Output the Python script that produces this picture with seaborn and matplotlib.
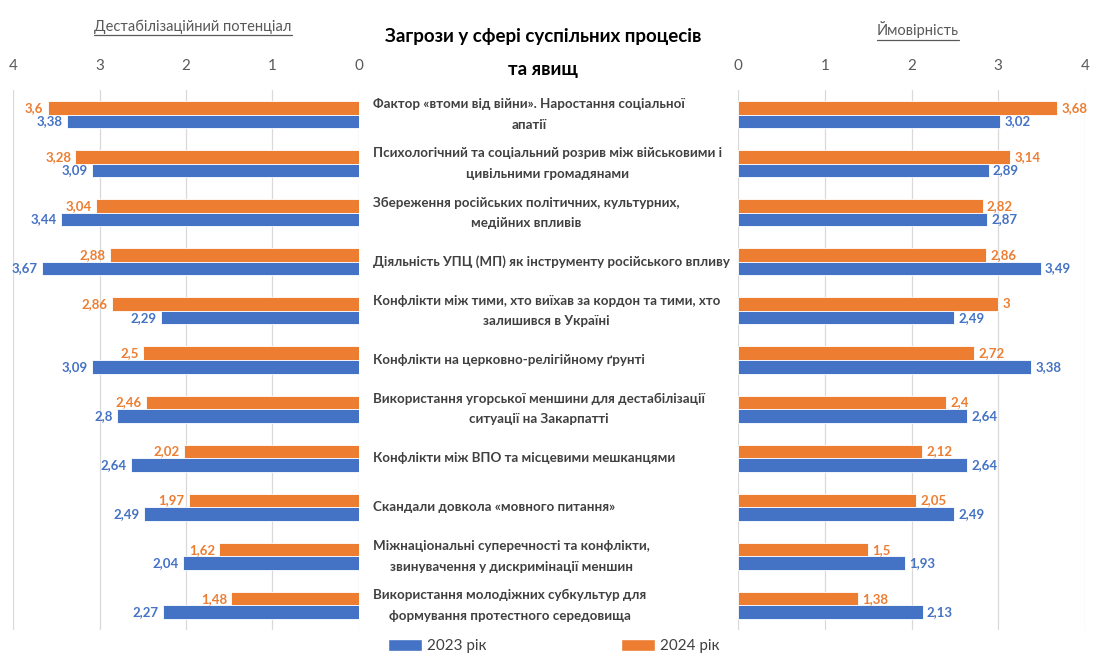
import numpy as np
import pandas as pd
import matplotlib
matplotlib.use("Agg")
import matplotlib.pyplot as plt
import matplotlib.transforms as mtransforms
from matplotlib.patches import Patch
from matplotlib.lines import Line2D
import seaborn as sns

# --- data ---
threats = [
    "Фактор «втоми від війни». Наростання соціальної\nапатії",
    "Психологічний та соціальний розрив між військовими і\nцивільними громадянами",
    "Збереження російських політичних, культурних,\nмедійних впливів",
    "Діяльність УПЦ (МП) як інструменту російського впливу",
    "Конфлікти між тими, хто виїхав за кордон та тими, хто\nзалишився в Україні",
    "Конфлікти на церковно-релігійному ґрунті",
    "Використання угорської меншини для дестабілізації\nситуації на Закарпатті",
    "Конфлікти між ВПО та місцевими мешканцями",
    "Скандали довкола «мовного питання»",
    "Міжнаціональні суперечності та конфлікти,\nзвинувачення у дискримінації меншин",
    "Використання молодіжних субкультур для\nформування протестного середовища",
]
potential_2023 = [3.38, 3.09, 3.44, 3.67, 2.29, 3.09, 2.8, 2.64, 2.49, 2.04, 2.27]
potential_2024 = [3.6, 3.28, 3.04, 2.88, 2.86, 2.5, 2.46, 2.02, 1.97, 1.62, 1.48]
prob_2023 = [3.02, 2.89, 2.87, 3.49, 2.49, 3.38, 2.64, 2.64, 2.49, 1.93, 2.13]
prob_2024 = [3.68, 3.14, 2.82, 2.86, 3.0, 2.72, 2.4, 2.12, 2.05, 1.5, 1.38]
years = ["2023 рік", "2024 рік"]
ticks = [0, 1, 2, 3, 4]

blue = "#4472C4"
orange = "#ED7D31"
pal = {years[0]: blue, years[1]: orange}

sns.set_style("white")
plt.rcParams['font.family'] = ['Lato', 'DejaVu Sans']

n = len(threats)
df_pot = pd.DataFrame({"threat": threats * 2,
                       "year": [years[0]] * n + [years[1]] * n,
                       "value": potential_2023 + potential_2024})
df_prob = pd.DataFrame({"threat": threats * 2,
                        "year": [years[0]] * n + [years[1]] * n,
                        "value": prob_2023 + prob_2024})

W, H = 1097, 657
fig = plt.figure(figsize=(W / 100, H / 100), dpi=100)
ax_l = fig.add_axes([13 / W, 1 - 630 / H, 346 / W, 540 / H])
ax_r = fig.add_axes([738 / W, 1 - 630 / H, 347 / W, 540 / H])

for ax, df, inverted in [(ax_l, df_pot, True), (ax_r, df_prob, False)]:
    sns.barplot(data=df, y="threat", x="value", hue="year",
                hue_order=[years[1], years[0]], palette=pal, orient="h",
                width=0.55, ax=ax, edgecolor="white", linewidth=0.6,
                saturation=1, legend=False, order=threats)
    if inverted:
        ax.set_xlim(4, 0)
    else:
        ax.set_xlim(0, 4)
    ax.set_xticks(ticks)
    ax.xaxis.tick_top()
    ax.tick_params(axis='x', length=0, pad=12, labelsize=11, labelcolor="#595959")
    ax.set_yticks([])
    ax.set_xlabel("")
    ax.set_ylabel("")
    ax.grid(axis='x', color="#D9D9D9", lw=0.9)
    ax.set_axisbelow(True)
    for s in ax.spines.values():
        s.set_visible(False)
    for cont, c in zip(ax.containers, [orange, blue]):
        labs = [f"{v:g}".replace(".", ",") for v in cont.datavalues]
        ax.bar_label(cont, labels=labs, padding=3, color=c,
                     fontsize=9.5, fontweight="bold")

# category labels in the middle
trans = mtransforms.blended_transform_factory(fig.transFigure, ax_r.transData)
for i, t in enumerate(threats):
    fig.text(373 / W, i, t, transform=trans, ha="left", va="center",
             multialignment="center", fontsize=9.6, fontweight="bold",
             color="#404040", linespacing=1.85)

fig.text(543 / W, 1 - 53 / H, "Загрози у сфері суспільних процесів\nта явищ",
         ha="center", va="center", fontsize=13.5, fontweight="bold",
         color="black", linespacing=2.15)

h1 = fig.text(193 / W, 1 - 27 / H, "Дестабілізаційний потенціал", ha="center",
              va="center", fontsize=10.5, color="#595959")
h2 = fig.text(918 / W, 1 - 30 / H, "Ймовірність", ha="center",
              va="center", fontsize=10.5, color="#595959")

fig.legend(handles=[Patch(facecolor=blue, label=years[0]),
                    Patch(facecolor=orange, label=years[1])],
           loc="center", bbox_to_anchor=(0.505, 1 - 646 / H), ncol=2,
           frameon=False, handlelength=2.2, handleheight=0.8,
           handletextpad=0.35, columnspacing=8.8, fontsize=11,
           labelcolor="#404040")

# underline the two headers
fig.canvas.draw()
for t in [h1, h2]:
    bb = t.get_window_extent()
    y = bb.y0 - 1
    fig.add_artist(Line2D([bb.x0 / W, bb.x1 / W], [y / H, y / H],
                          transform=fig.transFigure, color="#595959", lw=0.9))

fig.savefig("out.png", dpi=100)
